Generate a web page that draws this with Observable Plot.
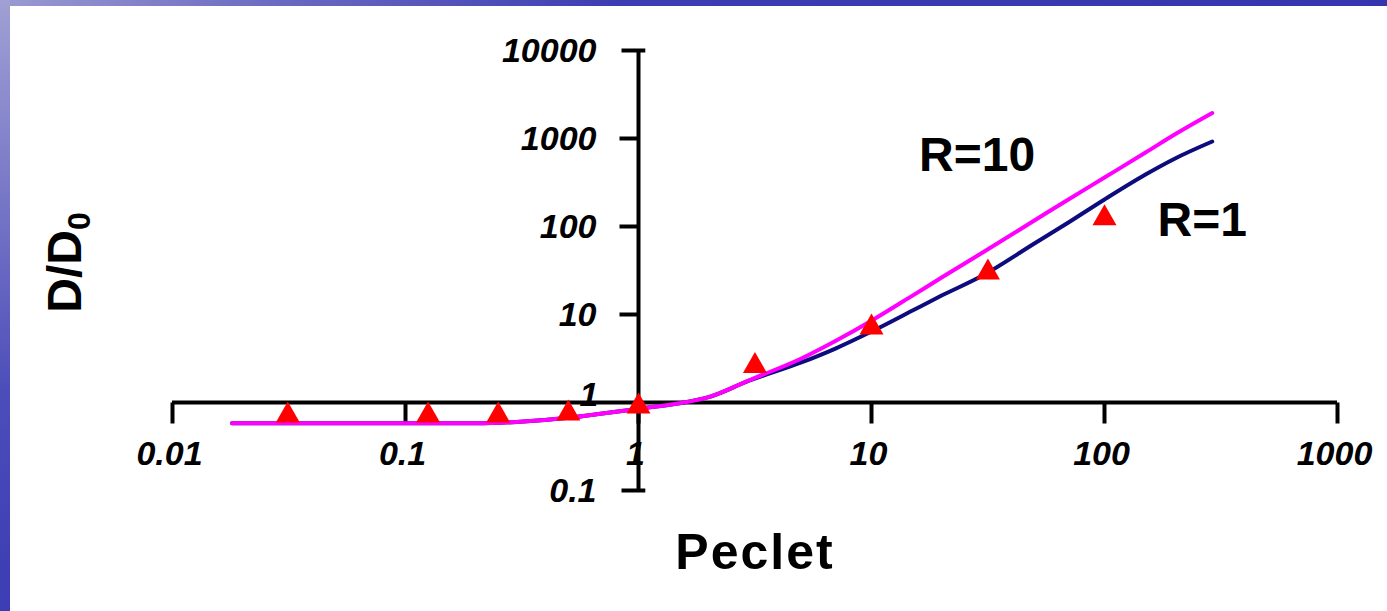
<!DOCTYPE html>
<html><head><meta charset="utf-8">
<script src="https://cdn.jsdelivr.net/npm/d3@7"></script>
<script src="https://cdn.jsdelivr.net/npm/@observablehq/plot@0.6"></script>
<style>
html,body{margin:0;padding:0;background:#fff;}
#wrap{position:relative;width:1387px;height:611px;overflow:hidden;background:#fff;}
#topbar{position:absolute;left:0;top:0;width:1387px;height:6px;background:linear-gradient(to right,#9a9ad2 0%,#6a6ac2 20%,#3c3cb3 45%,#3535af 100%);z-index:2;}
#leftbar{position:absolute;left:0;top:0;width:10px;height:611px;background:linear-gradient(to bottom,#a0a0d4 0%,#7a7ac8 30%,#4c4cba 65%,#3c3cb4 100%);z-index:2;}
#chart{position:absolute;left:0;top:0;}
</style>
</head><body>
<div id="wrap"><div id="chart"></div><div id="topbar"></div><div id="leftbar"></div></div>
<script>
// Axis ticks
const xTicks = [0.01, 0.1, 1, 10, 100, 1000];
const xTickLabels = ["0.01", "0.1", "1", "10", "100", "1000"];
const yTicks = [0.1, 1, 10, 100, 1000, 10000];
const yTickLabels = ["0.1", "1", "10", "100", "1000", "10000"];

// Model curves (D/D0 vs Peclet)
const peclet = [0.018, 0.05, 0.1, 0.2, 0.3, 0.5, 0.7, 1, 1.5, 2, 3, 5, 7, 10, 15, 20, 30, 50, 70, 100, 150, 200, 290];
const dR10 = [0.58, 0.58, 0.58, 0.58, 0.6, 0.67, 0.75, 0.85, 0.98, 1.15, 1.8, 3.16, 5.0, 8.5, 16.4, 26.3, 50.7, 117, 203, 360, 692, 1110, 1950];
const dR1  = [0.58, 0.58, 0.58, 0.58, 0.6, 0.67, 0.75, 0.85, 0.98, 1.15, 1.78, 2.85, 4.1, 6.4, 11.1, 16.4, 27.7, 64, 111, 203, 390, 590, 925];

// Experimental points
const expPe = [0.03125, 0.125, 0.25, 0.5, 1, 3.16, 10, 31.6, 100];
const expD  = [0.71, 0.71, 0.71, 0.75, 0.9, 2.6, 7.1, 30, 124];

// Series labels
const seriesLabels = ["R=10", "R=1"];
const labelPe = [16, 169];
const labelD = [641, 117];

const xTitle = "Peclet";
const yTitle = "D/D0";

const xMin = d3.min(xTicks), xMax = d3.max(xTicks);
const yMin = d3.min(yTicks), yMax = d3.max(yTicks);

const len = (size) => Math.sqrt(size / Math.PI);
const tickDown = {draw(ctx, size) { const l = len(size); ctx.moveTo(0, 0); ctx.lineTo(0, l); }};
const tickLeft = {draw(ctx, size) { const l = len(size); ctx.moveTo(0, 0); ctx.lineTo(-l, 0); }};
const tickCap = {draw(ctx, size) { const l = len(size); ctx.moveTo(-l, 0); ctx.lineTo(l * 0.4, 0); }};
const triSym = {draw(ctx, size) { const r = len(size); ctx.moveTo(0, -1.4 * r); ctx.lineTo(1.2 * r, 0.7 * r); ctx.lineTo(-1.2 * r, 0.7 * r); ctx.closePath(); }};

const tickFont = {fontSize: 34, fontWeight: "bold", fontStyle: "italic", fill: "black"};

const xLab = xTicks.map((v, i) => ({v, label: xTickLabels[i]}));
const yLab = yTicks.map((v, i) => ({v, label: yTickLabels[i]}));

const chart = Plot.plot({
  width: 1387,
  height: 611,
  marginLeft: 172,
  marginRight: 50,
  marginTop: 50,
  marginBottom: 121,
  x: {type: "log", domain: [xMin, xMax], axis: null},
  y: {type: "log", domain: [yMin, yMax], axis: null},
  style: {fontFamily: "'Liberation Sans', Arial, sans-serif", background: "transparent", overflow: "visible"},
  marks: [
    // tick labels
    Plot.text(xLab, {x: "v", y: 1, text: "label", dy: 52, dx: -3, ...tickFont}),
    Plot.text(yLab.filter(d => d.v !== 1), {x: 1, y: "v", text: "label", dx: -42, dy: 1, textAnchor: "end", ...tickFont}),
    Plot.text(yLab.filter(d => d.v === 1), {x: 1, y: "v", text: "label", dx: -40, dy: -7, textAnchor: "end", ...tickFont}),
    // axes crossing at (1,1)
    Plot.ruleY([1], {x1: xMin, x2: xMax, stroke: "black", strokeWidth: 4}),
    Plot.ruleX([1], {y1: yMin, y2: yMax, stroke: "black", strokeWidth: 4}),
    Plot.dot(xTicks, {x: d => d, y: 1, symbol: tickDown, r: 21, stroke: "black", strokeWidth: 4, fill: "none"}),
    Plot.dot(yTicks.filter(d => d !== yMin && d !== yMax && d !== 1), {x: 1, y: d => d, symbol: tickLeft, r: 19, stroke: "black", strokeWidth: 4, fill: "none"}),
    Plot.dot([yMin, yMax], {x: 1, y: d => d, symbol: tickCap, r: 17, stroke: "black", strokeWidth: 4, fill: "none"}),
    // curves
    Plot.line(peclet, {x: d => d, y: (d, i) => dR1[i], stroke: "#0c0c7e", strokeWidth: 4, curve: "monotone-x"}),
    Plot.line(peclet, {x: d => d, y: (d, i) => dR10[i], stroke: "#ff00ff", strokeWidth: 4, curve: "monotone-x"}),
    // experimental points
    Plot.dot(expPe, {x: d => d, y: (d, i) => expD[i], symbol: triSym, r: 10, fill: "#ff0000", stroke: "none"}),
    // series labels
    Plot.text(seriesLabels, {x: (d, i) => labelPe[i], y: (d, i) => labelD[i], text: d => d, textAnchor: "start", fontSize: 48, fontWeight: "bold", fill: "black"}),
    // axis titles
    Plot.text([xTitle], {frameAnchor: "bottom", text: d => d, dy: 78, fontSize: 50, fontWeight: "bold", fill: "black"}),
    Plot.text([yTitle], {frameAnchor: "left", text: d => d, textAnchor: "middle", dx: -107, dy: -8, rotate: -90, fontSize: 48, fontWeight: "bold", fill: "black"})
  ]
});

document.getElementById("chart").appendChild(chart);

const sel = d3.select(chart).selectAll("text");
sel.filter(function() { return this.textContent === xTitle; }).style("letter-spacing", "2px");
sel.filter(function() { return this.textContent === yTitle; }).each(function() {
  const t = d3.select(this);
  t.text("D/D");
  t.append("tspan").attr("font-size", 32).attr("dy", "0.3em").text("0");
});
</script>
</body></html>
